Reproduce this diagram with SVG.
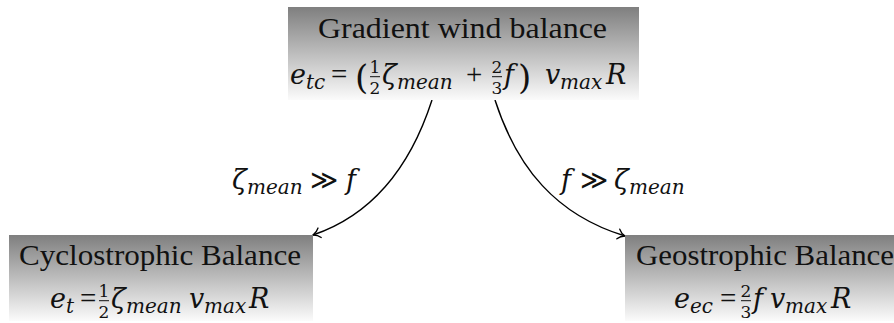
<svg xmlns="http://www.w3.org/2000/svg" width="894" height="323" viewBox="0 0 894 323">
<style>
text{fill:#111}
.t{font-family:'Liberation Serif','Times New Roman',serif;font-size:30px}
.m{font-family:'DejaVu Serif',serif;font-size:27px;font-style:italic}
.s{font-family:'DejaVu Serif',serif;font-size:20px;font-style:italic}
.d{font-family:'DejaVu Serif',serif;font-size:17px;text-anchor:middle}
.r{font-family:'Liberation Serif','DejaVu Serif',serif;font-size:29px}
.p{font-family:'DejaVu Serif',serif;font-size:34px}
.gg{font-family:'DejaVu Serif',serif;font-size:27px}
.bar{stroke:#111;stroke-width:1}
.edge{fill:none;stroke:#000;stroke-width:1.4}
</style>
<defs>
<linearGradient id="g" x1="0" y1="0" x2="0" y2="1">
<stop offset="0" stop-color="#7f7f7f"/>
<stop offset="1" stop-color="#fbfbfb"/>
</linearGradient>
<marker id="arr" markerUnits="userSpaceOnUse" markerWidth="16" markerHeight="16" refX="0" refY="0" orient="auto" overflow="visible">
<path d="M-7,-5 C-5,-2.2 -2,-0.6 0,0 C-2,0.6 -5,2.2 -7,5" fill="none" stroke="#000" stroke-width="1.3" stroke-linecap="round"/>
</marker>
</defs>

<g id="connectors">
<path class="edge" d="M432,100 C410,168 372,215 313,235" marker-end="url(#arr)"/>
<path class="edge" d="M495,100 C517,168 556,215 625,236" marker-end="url(#arr)"/>
<g id="label-left">
<text class="m" x="232" y="189">ζ</text>
<text class="s" x="247" y="194">mean</text>
<text class="gg" x="310" y="189">≫</text>
<text class="m" x="346" y="189">f</text>
</g>
<g id="label-right">
<text class="m" x="561" y="189">f</text>
<text class="gg" x="580" y="189">≫</text>
<text class="m" x="614" y="189">ζ</text>
<text class="s" x="629" y="194">mean</text>
</g>
</g>

<g id="gradient-wind">
<rect x="288" y="7" width="351" height="93" fill="url(#g)"/>
<text class="t" x="318" y="38" textLength="289" lengthAdjust="spacingAndGlyphs">Gradient wind balance</text>
<text class="m" x="290" y="84">e</text>
<text class="s" x="306" y="89">tc</text>
<text class="r" x="331" y="84">=</text>
<text class="p" x="355" y="89">(</text>
<text class="d" x="375" y="72.5">1</text>
<line class="bar" x1="370" y1="76.7" x2="380" y2="76.7"/>
<text class="d" x="375" y="94">2</text>
<text class="m" x="382" y="84">ζ</text>
<text class="s" x="397" y="89">mean</text>
<text class="r" x="466" y="84">+</text>
<text class="d" x="497" y="72.5">2</text>
<line class="bar" x1="492" y1="76.7" x2="502" y2="76.7"/>
<text class="d" x="497" y="94">3</text>
<text class="m" x="504" y="84">f</text>
<text class="p" x="518" y="89">)</text>
<text class="m" x="545" y="84">v</text>
<text class="s" x="560" y="89">max</text>
<text class="m" x="606" y="84">R</text>
</g>

<g id="cyclostrophic">
<rect x="9" y="235" width="304" height="86" fill="url(#g)"/>
<text class="t" x="19" y="265" textLength="282" lengthAdjust="spacingAndGlyphs">Cyclostrophic Balance</text>
<text class="m" x="50" y="308">e</text>
<text class="s" x="66" y="313">t</text>
<text class="r" x="80" y="308">=</text>
<text class="d" x="104" y="296.5">1</text>
<line class="bar" x1="99" y1="300.7" x2="109" y2="300.7"/>
<text class="d" x="104" y="318">2</text>
<text class="m" x="111" y="308">ζ</text>
<text class="s" x="126" y="313">mean</text>
<text class="m" x="189" y="308">v</text>
<text class="s" x="204" y="313">max</text>
<text class="m" x="249" y="308">R</text>
</g>

<g id="geostrophic">
<rect x="625" y="235" width="284" height="86" fill="url(#g)"/>
<text class="t" x="636" y="265" textLength="258" lengthAdjust="spacingAndGlyphs">Geostrophic Balance</text>
<text class="m" x="674" y="308">e</text>
<text class="s" x="690" y="313">ec</text>
<text class="r" x="720" y="308">=</text>
<text class="d" x="746" y="296.5">2</text>
<line class="bar" x1="741" y1="300.7" x2="751" y2="300.7"/>
<text class="d" x="746" y="318">3</text>
<text class="m" x="753" y="308">f</text>
<text class="m" x="770" y="308">v</text>
<text class="s" x="785" y="313">max</text>
<text class="m" x="831" y="308">R</text>
</g>
</svg>
